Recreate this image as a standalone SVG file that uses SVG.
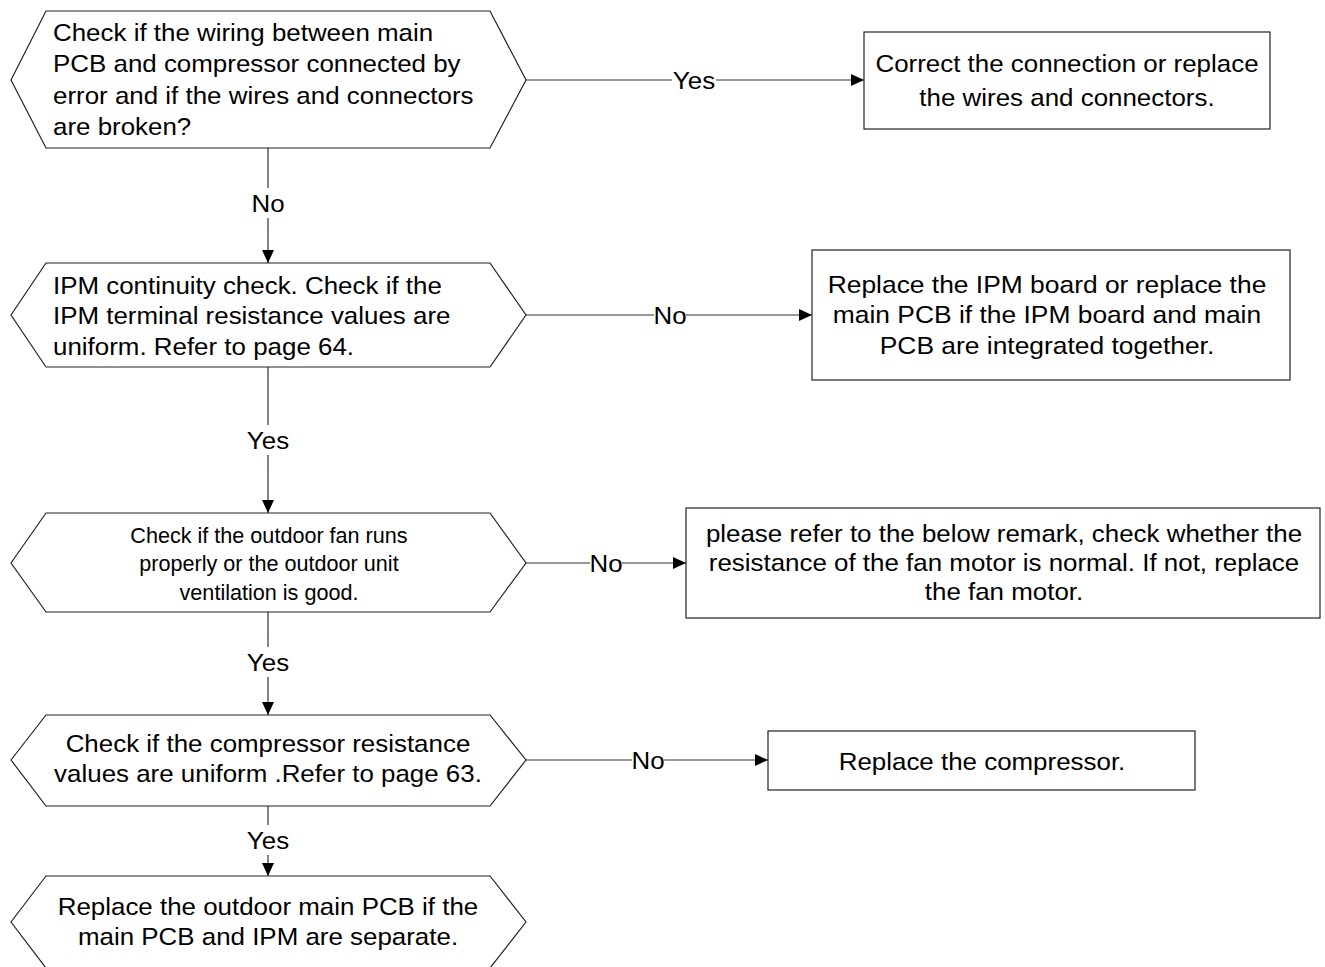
<svg xmlns="http://www.w3.org/2000/svg" width="1325" height="967" viewBox="0 0 1325 967">
<defs>
<style>
.shape{fill:#fff;stroke:#222;stroke-width:1.2}
.t{font-family:"Liberation Sans",Arial,sans-serif;font-size:24px;fill:#000}
.s{font-size:21.6px}
.c{text-anchor:middle}
.lbl{font-family:"Liberation Sans",Arial,sans-serif;font-size:24px;fill:#000;text-anchor:middle;dominant-baseline:central}
.edge{fill:none;stroke:#333;stroke-width:1.2}
</style>
<marker id="arr" viewBox="0 0 13 12" refX="13" refY="6" markerWidth="13" markerHeight="12" markerUnits="userSpaceOnUse" orient="auto">
<path d="M0,0 L13,6 L0,12 Z" fill="#000"/>
</marker>
</defs>
<rect width="1325" height="967" fill="#fff"/>

<g id="connectors">
<path class="edge" d="M526,80 H672"/><path class="edge" d="M716,80 H864" marker-end="url(#arr)"/>
<text class="lbl" x="694" y="80" transform="matrix(1.08 0 0 1 -55.52 0)">Yes</text>
<path class="edge" d="M268,148 V188"/><path class="edge" d="M268,218 V263" marker-end="url(#arr)"/>
<text class="lbl" x="268" y="203" transform="matrix(1.08 0 0 1 -21.44 0)">No</text>
<path class="edge" d="M526,315 H654"/><path class="edge" d="M686,315 H812" marker-end="url(#arr)"/>
<text class="lbl" x="670" y="315" transform="matrix(1.08 0 0 1 -53.6 0)">No</text>
<path class="edge" d="M268,367 V425"/><path class="edge" d="M268,455 V513" marker-end="url(#arr)"/>
<text class="lbl" x="268" y="440" transform="matrix(1.08 0 0 1 -21.44 0)">Yes</text>
<path class="edge" d="M526,563 H590"/><path class="edge" d="M622,563 H686" marker-end="url(#arr)"/>
<text class="lbl" x="606" y="563" transform="matrix(1.08 0 0 1 -48.48 0)">No</text>
<path class="edge" d="M268,612 V647"/><path class="edge" d="M268,677 V715" marker-end="url(#arr)"/>
<text class="lbl" x="268" y="662" transform="matrix(1.08 0 0 1 -21.44 0)">Yes</text>
<path class="edge" d="M526,760 H632"/><path class="edge" d="M664,760 H768" marker-end="url(#arr)"/>
<text class="lbl" x="648" y="760" transform="matrix(1.08 0 0 1 -51.84 0)">No</text>
<path class="edge" d="M268,806 V825"/><path class="edge" d="M268,855 V876" marker-end="url(#arr)"/>
<text class="lbl" x="268" y="840" transform="matrix(1.08 0 0 1 -21.44 0)">Yes</text>
</g>

<g id="n1">
<polygon class="shape" points="11,80 46,11 490,11 526,80 490,148 46,148"/>
<text class="t" transform="matrix(1.08 0 0 1 -4.24 0)"><tspan x="53" y="41">Check if the wiring between main</tspan><tspan x="53" y="72">PCB and compressor connected by</tspan><tspan x="53" y="104">error and if the wires and connectors</tspan><tspan x="53" y="135">are broken?</tspan></text>
</g>
<g id="n2">
<rect class="shape" x="864" y="32" width="406" height="97"/>
<text class="t c" transform="matrix(1.08 0 0 1 -85.36 0)"><tspan x="1067" y="72">Correct the connection or replace</tspan><tspan x="1067" y="106">the wires and connectors.</tspan></text>
</g>
<g id="n3">
<polygon class="shape" points="11,315 46,263 490,263 526,315 490,367 46,367"/>
<text class="t" transform="matrix(1.08 0 0 1 -4.24 0)"><tspan x="53" y="294">IPM continuity check. Check if the</tspan><tspan x="53" y="324">IPM terminal resistance values are</tspan><tspan x="53" y="355">uniform. Refer to page 64.</tspan></text>
</g>
<g id="n4">
<rect class="shape" x="812" y="250" width="478" height="130"/>
<text class="t c" transform="matrix(1.1 0 0 1 -104.7 0)"><tspan x="1047" y="293">Replace the IPM board or replace the</tspan><tspan x="1047" y="323.5">main PCB if the IPM board and main</tspan><tspan x="1047" y="354">PCB are integrated together.</tspan></text>
</g>
<g id="n5">
<polygon class="shape" points="11,563 46,513 490,513 526,563 490,612 46,612"/>
<text class="t c s"><tspan x="269" y="543">Check if the outdoor fan runs</tspan><tspan x="269" y="571">properly or the outdoor unit</tspan><tspan x="269" y="600">ventilation is good.</tspan></text>
</g>
<g id="n6">
<rect class="shape" x="686" y="508" width="634" height="110"/>
<text class="t c" transform="matrix(1.08 0 0 1 -80.32 0)"><tspan x="1004" y="542">please refer to the below remark, check whether the</tspan><tspan x="1004" y="571">resistance of the fan motor is normal. If not, replace</tspan><tspan x="1004" y="600">the fan motor.</tspan></text>
</g>
<g id="n7">
<polygon class="shape" points="11,760 46,715 490,715 526,760 490,806 46,806"/>
<text class="t c" transform="matrix(1.08 0 0 1 -21.44 0)"><tspan x="268" y="752">Check if the compressor resistance</tspan><tspan x="268" y="782">values are uniform .Refer to page 63.</tspan></text>
</g>
<g id="n8">
<rect class="shape" x="768" y="731" width="427" height="59"/>
<text class="t c" transform="matrix(1.08 0 0 1 -78.56 0)"><tspan x="982" y="770">Replace the compressor.</tspan></text>
</g>
<g id="n9">
<polygon class="shape" points="11,922 46,876 490,876 526,922 490,968 46,968"/>
<text class="t c" transform="matrix(1.08 0 0 1 -21.44 0)"><tspan x="268" y="915">Replace the outdoor main PCB if the</tspan><tspan x="268" y="945">main PCB and IPM are separate.</tspan></text>
</g>
</svg>
